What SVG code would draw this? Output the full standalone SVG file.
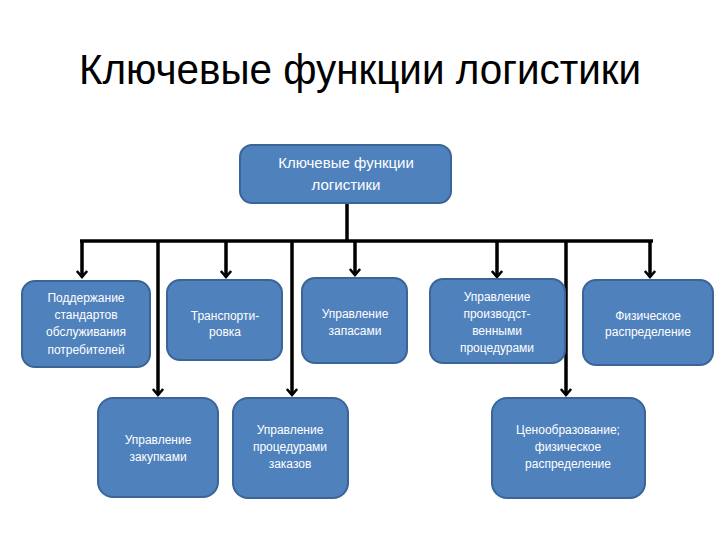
<svg xmlns="http://www.w3.org/2000/svg" width="720" height="540" viewBox="0 0 720 540">
<defs>
<style>
.box{fill:#4F81BD;stroke:#3A6596;stroke-width:2}
.t{font-family:"Liberation Sans","Open Sans",sans-serif;font-size:12px;fill:#FFFFFF;text-anchor:middle}
.tt{font-size:15px}
.ln{fill:none;stroke:#000;stroke-width:3.5}
.title{font-family:"Liberation Sans","Open Sans",sans-serif;font-size:42px;fill:#000;text-anchor:middle}
</style>
<marker id="arr" markerWidth="12" markerHeight="12" refX="0" refY="0" orient="auto" markerUnits="userSpaceOnUse" viewBox="-10 -7 12 14" overflow="visible">
<path d="M-7,-6 L0,0 L-7,6" fill="none" stroke="#000" stroke-width="3"/>
</marker>
</defs>
<rect width="720" height="540" fill="#fff"/>
<text class="title" x="360" y="84" textLength="562" lengthAdjust="spacingAndGlyphs">Ключевые функции логистики</text>
<g id="connectors">
<path class="ln" d="M347,203 V241"/>
<path class="ln" d="M80,241 H653"/>
<path class="ln" d="M82,241 V277" marker-end="url(#arr)"/>
<path class="ln" d="M226,241 V277" marker-end="url(#arr)"/>
<path class="ln" d="M355,241 V275" marker-end="url(#arr)"/>
<path class="ln" d="M497,241 V277" marker-end="url(#arr)"/>
<path class="ln" d="M650,241 V277" marker-end="url(#arr)"/>
<path class="ln" d="M158,241 V395" marker-end="url(#arr)"/>
<path class="ln" d="M292,241 V395" marker-end="url(#arr)"/>
<path class="ln" d="M566,241 V395" marker-end="url(#arr)"/>
</g>
<g id="root">
<rect class="box" x="240" y="145" width="211" height="58" rx="12"/>
<text class="t tt" x="346" y="168">Ключевые функции</text>
<text class="t tt" x="346" y="190">логистики</text>
</g>
<g id="n1">
<rect class="box" x="22" y="281" width="128" height="86" rx="13"/>
<text class="t" x="86" y="302">Поддержание</text>
<text class="t" x="86" y="319">стандартов</text>
<text class="t" x="86" y="336">обслуживания</text>
<text class="t" x="86" y="354">потребителей</text>
</g>
<g id="n2">
<rect class="box" x="167" y="280" width="115" height="80" rx="13"/>
<text class="t" x="225" y="320">Транспорти-</text>
<text class="t" x="225" y="336">ровка</text>
</g>
<g id="n3">
<rect class="box" x="302" y="278" width="105" height="85" rx="13"/>
<text class="t" x="355" y="318">Управление</text>
<text class="t" x="355" y="335">запасами</text>
</g>
<g id="n4">
<rect class="box" x="430" y="279" width="135" height="84" rx="13"/>
<text class="t" x="497" y="301">Управление</text>
<text class="t" x="497" y="318">производст-</text>
<text class="t" x="497" y="335">венными</text>
<text class="t" x="497" y="352">процедурами</text>
</g>
<g id="n5">
<rect class="box" x="583" y="280" width="130" height="85" rx="13"/>
<text class="t" x="648" y="320">Физическое</text>
<text class="t" x="648" y="336">распределение</text>
</g>
<g id="n6">
<rect class="box" x="98" y="398" width="120" height="99" rx="15"/>
<text class="t" x="158" y="444">Управление</text>
<text class="t" x="158" y="461">закупками</text>
</g>
<g id="n7">
<rect class="box" x="233" y="398" width="115" height="100" rx="15"/>
<text class="t" x="290" y="434">Управление</text>
<text class="t" x="290" y="451">процедурами</text>
<text class="t" x="290" y="468">заказов</text>
</g>
<g id="n8">
<rect class="box" x="492" y="398" width="153" height="100" rx="15"/>
<text class="t" x="568" y="434">Ценообразование;</text>
<text class="t" x="568" y="451">физическое</text>
<text class="t" x="568" y="468">распределение</text>
</g>
</svg>
